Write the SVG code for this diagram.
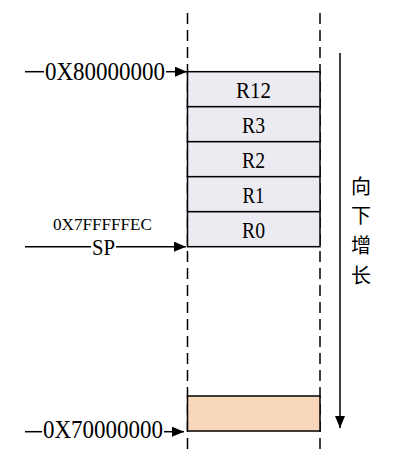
<svg xmlns="http://www.w3.org/2000/svg" width="409" height="457" viewBox="0 0 409 457">
<style>
.ln{stroke:#000;stroke-width:1.5;fill:none}
.dash{stroke:#000;stroke-width:1.5;stroke-dasharray:11 6;fill:none}
.cell{fill:#EDEBF2;stroke:#000;stroke-width:1.5}
.low{fill:#F9D7BA;stroke:#000;stroke-width:1.5}
.t{font-family:"Liberation Serif","Times New Roman",serif;fill:#000}
.cn{font-family:"Noto Sans CJK SC",sans-serif;font-size:20px;fill:#000;text-anchor:middle}
</style>
<defs>
<marker id="ah" viewBox="0 0 12 10" refX="12" refY="5" markerWidth="12" markerHeight="10" markerUnits="userSpaceOnUse" orient="auto">
<path d="M0,0 L12,5 L0,10 Z" fill="#000"/>
</marker>
</defs>
<g id="guides">
<line class="dash" x1="187.5" y1="13" x2="187.5" y2="450"/>
<line class="dash" x1="320" y1="13" x2="320" y2="450"/>
</g>
<g id="stack">
<g id="r12"><rect class="cell" x="187.5" y="71.7" width="132.5" height="35"/><text class="t" x="253.5" y="97.5" font-size="24" text-anchor="middle" textLength="35" lengthAdjust="spacingAndGlyphs">R12</text></g>
<g id="r3"><rect class="cell" x="187.5" y="106.7" width="132.5" height="35"/><text class="t" x="253.5" y="132.5" font-size="24" text-anchor="middle" textLength="23" lengthAdjust="spacingAndGlyphs">R3</text></g>
<g id="r2"><rect class="cell" x="187.5" y="141.7" width="132.5" height="35"/><text class="t" x="253.5" y="167.5" font-size="24" text-anchor="middle" textLength="23" lengthAdjust="spacingAndGlyphs">R2</text></g>
<g id="r1"><rect class="cell" x="187.5" y="176.7" width="132.5" height="35"/><text class="t" x="253.5" y="202.5" font-size="24" text-anchor="middle" textLength="22" lengthAdjust="spacingAndGlyphs">R1</text></g>
<g id="r0"><rect class="cell" x="187.5" y="211.7" width="132.5" height="35"/><text class="t" x="253.5" y="237.5" font-size="24" text-anchor="middle" textLength="23" lengthAdjust="spacingAndGlyphs">R0</text></g>
<g id="bottom"><rect class="low" x="187.5" y="396" width="132.5" height="35"/></g>
</g>
<g id="connectors">
<line class="ln" x1="25" y1="71.7" x2="44" y2="71.7"/>
<line class="ln" x1="166" y1="71.7" x2="187" y2="71.7" marker-end="url(#ah)"/>
<line class="ln" x1="25" y1="246.7" x2="91" y2="246.7"/>
<line class="ln" x1="116" y1="246.7" x2="186" y2="246.7" marker-end="url(#ah)"/>
<line class="ln" x1="25" y1="431.7" x2="42" y2="431.7"/>
<line class="ln" x1="164" y1="431.7" x2="184" y2="431.7" marker-end="url(#ah)"/>
<line class="ln" x1="340" y1="53" x2="340" y2="428" marker-end="url(#ah)"/>
</g>
<g id="labels">
<text class="t" x="45" y="80" font-size="25" textLength="120" lengthAdjust="spacingAndGlyphs">0X80000000</text>
<text class="t" x="53" y="230" font-size="17" textLength="99" lengthAdjust="spacingAndGlyphs">0X7FFFFFEC</text>
<text class="t" x="92" y="255" font-size="23" textLength="23" lengthAdjust="spacingAndGlyphs">SP</text>
<text class="t" x="43" y="437.5" font-size="25" textLength="120" lengthAdjust="spacingAndGlyphs">0X70000000</text>
<text class="cn" x="361" y="194">向</text>
<text class="cn" x="361" y="223">下</text>
<text class="cn" x="361" y="253">增</text>
<text class="cn" x="361" y="283">长</text>
</g>
</svg>
